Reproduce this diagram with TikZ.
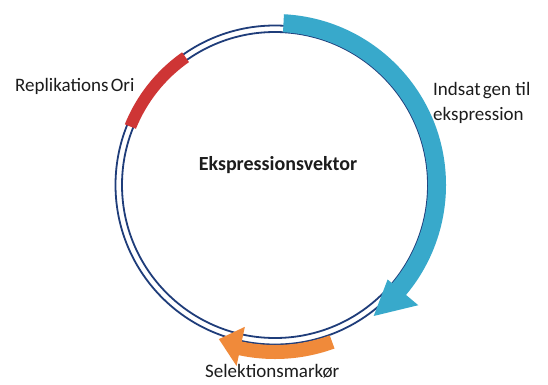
\documentclass[tikz,border=0pt]{standalone}
\usepackage{fontspec}
\setmainfont{Carlito}
\definecolor{navyline}{HTML}{1F3D7A}
\definecolor{genblue}{HTML}{38A9CB}
\definecolor{orired}{HTML}{CE3535}
\definecolor{selorange}{HTML}{F08A3A}
\definecolor{txt}{HTML}{1C1C1C}
\tikzset{
  lbl/.style={text=txt, inner sep=0pt, font=\fontsize{19}{24.5}\selectfont},
  ring/.style={draw=navyline, line width=1.8pt},
}
\begin{document}
\begin{tikzpicture}[x=1pt,y=1pt]
\useasboundingbox (0,0) rectangle (548,384);
\fill[white] (0,0) rectangle (548,384);
\coordinate (C) at (275,199);
% double ring
\draw[ring] (C) circle[radius=159.5];
\draw[ring] (C) circle[radius=153];
% replication origin (red)
\fill[orired] ([shift={(125:150)}]C) arc[start angle=125, end angle=158, radius=150]
  -- ([shift={(158:162)}]C) arc[start angle=158, end angle=125, radius=162] -- cycle;
% inserted gene (blue arrow)
\fill[genblue] ([shift={(87:171)}]C) arc[start angle=87, end angle=-40, radius=171]
  -- ([shift={(-40:187)}]C) -- ([shift={(-53:164)}]C) -- ([shift={(-40:147)}]C)
  -- ([shift={(-40:153)}]C) arc[start angle=-40, end angle=87, radius=153] -- cycle;
% selection marker (orange arrow)
\fill[selorange] ([shift={(-70:174)}]C) arc[start angle=-70, end angle=-102, radius=174]
  -- ([shift={(-102:185)}]C) -- ([shift={(-110:164)}]C) -- ([shift={(-102:145)}]C)
  -- ([shift={(-102:160)}]C) arc[start angle=-102, end angle=-70, radius=160] -- cycle;
% labels
\node[lbl, anchor=base west] (ori) at (15,293) {Replikations\hspace{0.12em}Ori};
\node[lbl, anchor=base, font=\fontsize{20}{24}\selectfont\bfseries] (title) at (278,214) {Ekspressionsvektor};
\node[lbl, anchor=base west, align=left] (gen) at (433,264) {Indsat\hspace{0.12em}gen til\\ekspression};
\node[lbl, anchor=base west] (sel) at (205,7) {Selektionsmarkør};
\end{tikzpicture}
\end{document}
